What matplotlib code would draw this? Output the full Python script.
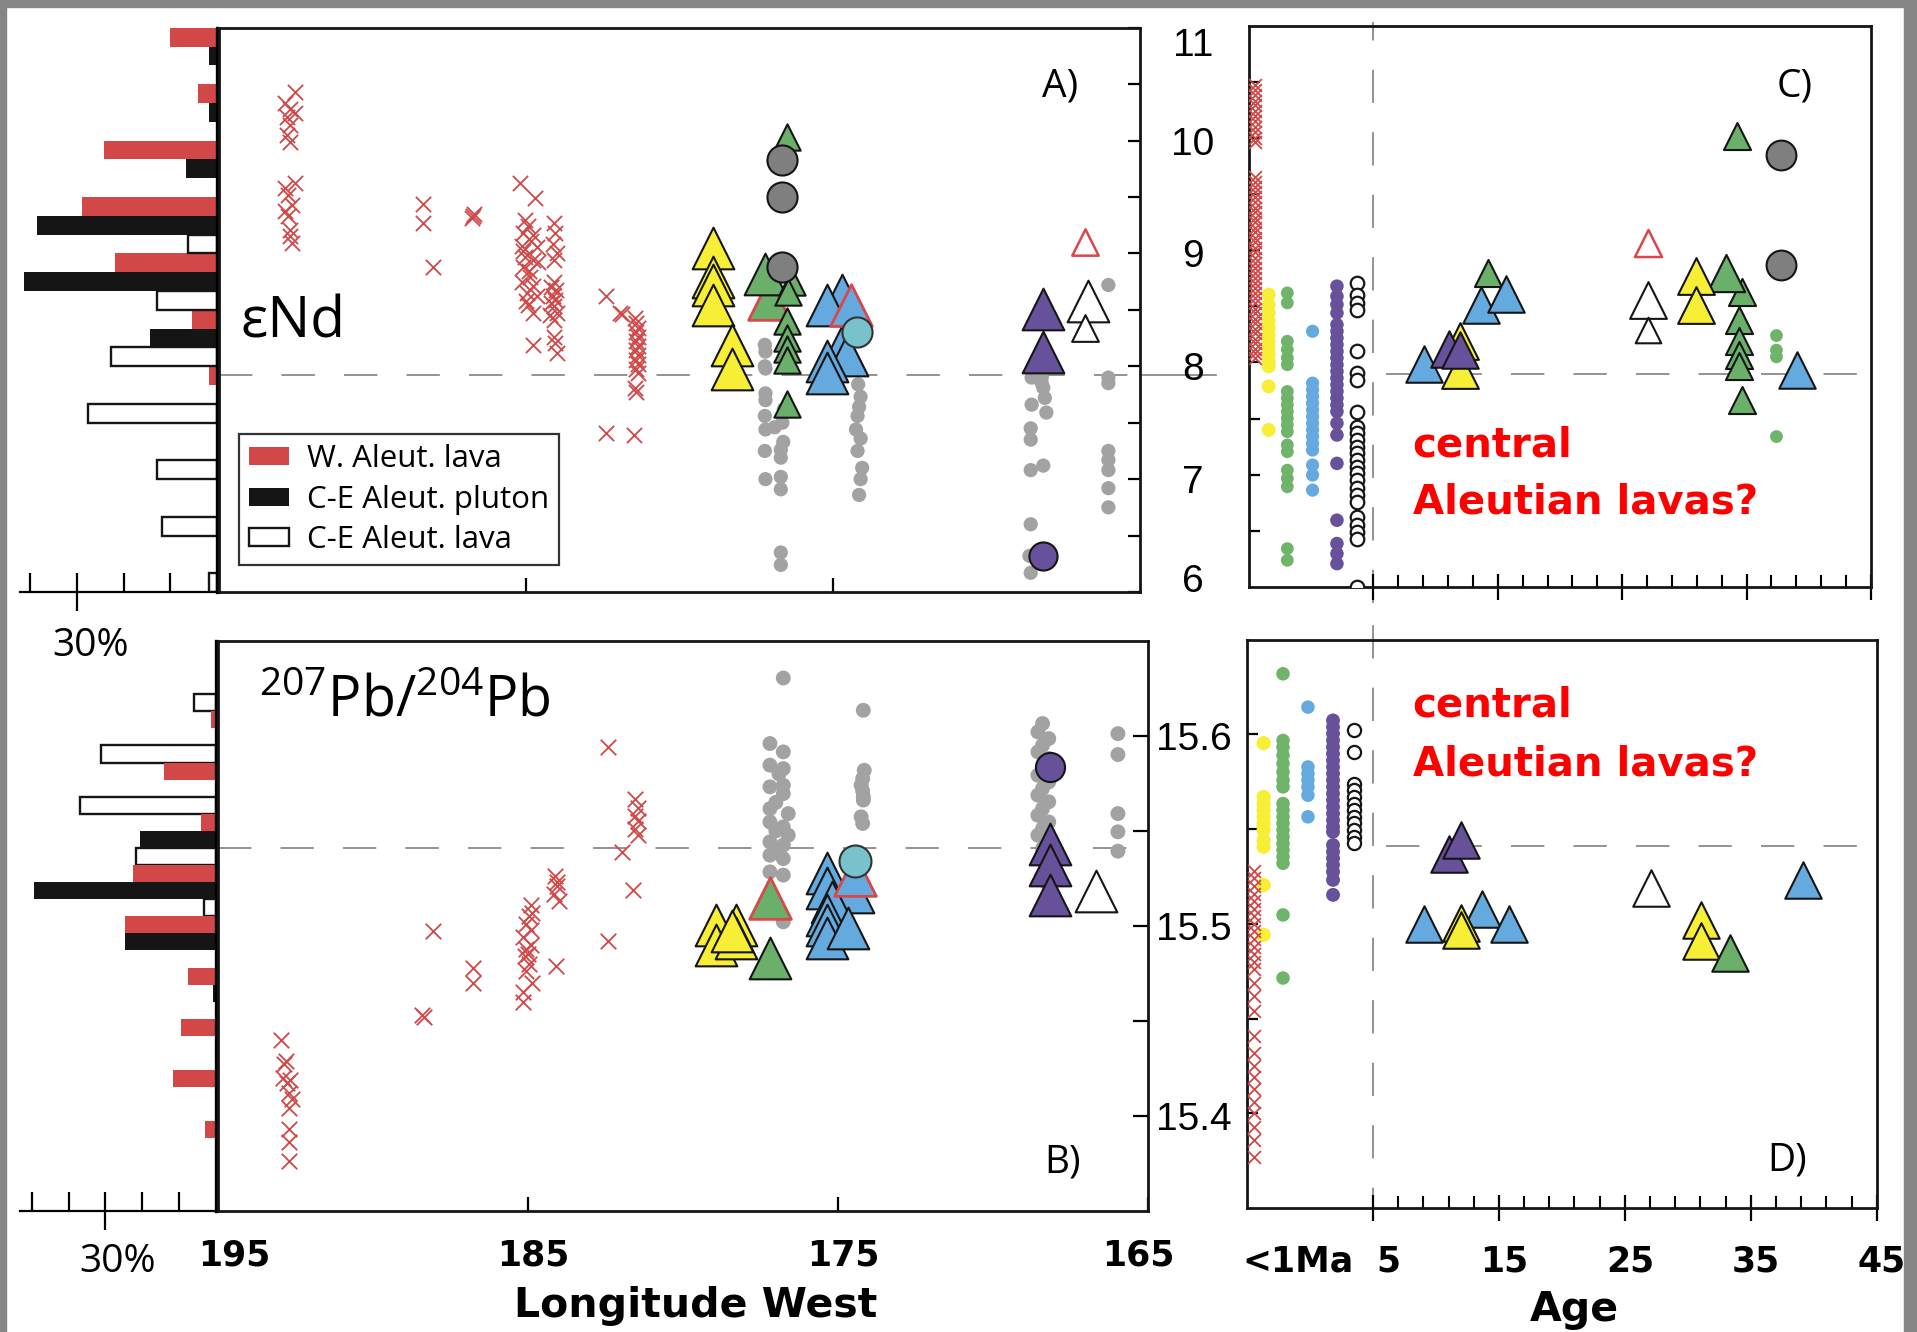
"""
Aleutian isotope panels: eNd and 207Pb/204Pb against longitude (A, B)
and against age (C, D), with side histograms for the western and
central-eastern Aleutian data.
"""

import numpy as np
import matplotlib
matplotlib.use("Agg")
import matplotlib.pyplot as plt
from matplotlib.patches import Patch, Rectangle
from matplotlib.transforms import ScaledTranslation
from matplotlib.ticker import FixedLocator

plt.rcParams["mathtext.fontset"] = "custom"
plt.rcParams["mathtext.rm"] = "Open Sans"
plt.rcParams["mathtext.default"] = "rm"

W_PX, H_PX, DPI = 1917, 1332, 100

RED = "#d24848"
YELLOW = "#f7ee36"
GREEN = "#6aaf6a"
GREEN_DOT = "#70b46c"
BLUE = "#65aade"
PURPLE = "#68519b"
CYAN = "#78c2cc"
GRAY_BIG = "#7f7f7f"
GRAY_DOT = "#a2a2a2"
BLACK = "#151515"
DASH = "#808080"

# ─────────────────────────────────────────────────────────────────
#  HISTOGRAMS (percent of samples)
# ─────────────────────────────────────────────────────────────────
nd_bin_top = [11.0, 10.5, 10.0, 9.5, 9.0, 8.5, 8.0, 7.5, 7.0, 6.5]
nd_hist_wal = [10.0, 4.1, 24.2, 29.0, 21.9, 5.4, 1.8, 0, 0, 0]
nd_hist_pluton = [1.8, 1.8, 6.6, 38.6, 41.3, 14.3, 0, 0, 0, 0]
nd_hist_celava = [0, 0, 0, 6.3, 12.9, 22.6, 27.6, 12.9, 11.8, 1.7]

pb_bin_top = [15.649, 15.622, 15.595, 15.568, 15.541, 15.514, 15.487, 15.460, 15.433, 15.406]
pb_hist_celava = [0, 5.9, 31.2, 36.8, 21.6, 3.3, 0, 0, 0, 0]
pb_hist_wal = [0, 1.3, 14.0, 4.2, 22.5, 24.7, 7.5, 9.6, 11.8, 3.1]
pb_hist_pluton = [0, 0, 0, 20.5, 49.4, 24.7, 0.8, 0, 0, 0]

# ─────────────────────────────────────────────────────────────────
#  PANEL A  (eNd vs longitude)
# ─────────────────────────────────────────────────────────────────
a_wal_lon = [192.52, 192.85, 192.69, 192.52, 192.80, 192.69, 192.80, 192.69,
             192.52, 192.85, 192.74, 192.63, 192.85, 192.74, 192.69, 192.69, 192.63,
             188.35, 188.35, 188.02, 186.69, 186.77, 186.72,
             185.20, 184.70, 185.03, 184.95, 185.09, 184.76, 185.14, 184.65, 185.03,
             184.76, 184.60, 185.09, 184.87, 185.14, 184.76, 184.98, 184.65, 184.92,
             184.76, 184.76, 185.10, 184.90, 185.00, 184.85,
             184.10, 184.05, 184.12, 184.00, 184.08, 184.10, 184.02, 184.12, 184.05,
             184.10, 184.00, 184.08, 184.10, 184.05, 184.00, 184.20, 184.18, 184.22,
             182.39, 181.94, 181.87, 181.45,
             181.42, 181.35, 181.42, 181.35, 181.42, 181.35, 181.42, 181.35, 181.42,
             181.35, 181.42, 181.35, 181.45, 181.42, 182.39, 181.48]
a_wal_end = [10.43, 10.33, 10.28, 10.24, 10.21, 10.14, 10.05, 9.99,
             9.62, 9.58, 9.52, 9.43, 9.38, 9.33, 9.21, 9.15, 9.09,
             9.44, 9.27, 8.88, 9.35, 9.31, 9.33,
             9.62, 9.49, 9.30, 9.24, 9.18, 9.16, 9.07, 9.06, 8.97,
             8.94, 8.92, 8.88, 8.79, 8.75, 8.71, 8.65, 8.62, 8.54,
             8.47, 8.19, 9.02, 8.84, 8.58, 9.11,
             9.27, 9.18, 9.08, 9.00, 8.94, 8.75, 8.68, 8.62, 8.59,
             8.53, 8.47, 8.41, 8.26, 8.21, 8.12, 8.70, 8.56, 8.45,
             8.62, 8.47, 8.46, 8.43,
             8.38, 8.34, 8.30, 8.26, 8.22, 8.18, 8.14, 8.10, 8.06,
             8.02, 7.98, 7.94, 7.81, 7.77, 7.41, 7.39]

a_gray_lon = [177.22, 177.20, 177.22, 177.20, 177.20, 177.20, 177.22, 176.65, 176.90,
              177.20, 177.22, 176.70, 176.70, 177.20, 176.70, 176.70, 176.70, 176.70,
              176.60, 176.62,
              174.18, 174.10, 174.15, 174.20, 174.25, 174.10, 174.20, 174.05, 174.10, 174.15,
              168.53, 168.20, 168.15, 168.53, 168.05, 168.56, 168.56, 168.56, 168.15,
              168.56, 168.60, 168.56, 168.20, 168.10,
              166.03, 166.03, 166.03, 166.03, 166.03, 166.03, 166.03, 166.03]
a_gray_end = [8.19, 8.13, 8.00, 7.98, 7.76, 7.70, 7.56, 7.50, 7.46,
              7.44, 7.25, 7.26, 7.19, 7.00, 7.02, 6.91, 6.35, 6.24,
              7.62, 7.33,
              7.84, 7.73, 7.64, 7.56, 7.44, 7.36, 7.25, 7.10, 7.00, 6.86,
              7.90, 7.90, 7.81, 7.66, 7.59, 7.45, 7.35, 7.08, 7.12,
              6.60, 6.32, 6.17, 7.85, 7.72,
              8.72, 7.90, 7.85, 7.25, 7.17, 7.08, 6.92, 6.75]

a_yellow_lon = [178.9, 178.9, 178.9, 178.9, 178.3, 178.3]
a_yellow_end = [9.05, 8.79, 8.72, 8.54, 8.19, 7.98]
a_green_lon = [177.2]
a_green_end = [8.82]
a_green_red_lon = [177.1]
a_green_red_end = [8.60]
a_green_small_lon = [176.5, 176.35, 176.45, 176.5, 176.5, 176.5, 176.5, 176.5]
a_green_small_end = [10.03, 8.75, 8.66, 8.40, 8.25, 8.15, 8.06, 7.67]
a_graycirc_lon = [176.66, 176.66, 176.66]
a_graycirc_end = [9.83, 9.50, 8.88]
a_blue_lon = [174.72, 175.2, 174.7, 174.55, 175.2, 175.2]
a_blue_end = [8.63, 8.54, 8.18, 8.10, 8.05, 7.94]
a_blue_red_lon = [174.4]
a_blue_red_end = [8.54]
a_cyan_lon = [174.23]
a_cyan_end = [8.30]
a_purple_lon = [168.15, 168.15]
a_purple_end = [8.51, 8.13]
a_purplecirc_lon = [168.15]
a_purplecirc_end = [6.32]
a_open_lon = [166.68]
a_open_end = [8.58]
a_open_small_lon = [166.8]
a_open_small_end = [8.34]
a_redopen_lon = [166.8]
a_redopen_end = [9.10]

# ─────────────────────────────────────────────────────────────────
#  PANEL C  (eNd vs age; modern samples in columns left of 5 Ma)
# ─────────────────────────────────────────────────────────────────
C_WAL_AGE, C_YEL_AGE, C_GRN_AGE, C_BLU_AGE, C_PUR_AGE, C_OPN_AGE = -4.5, -3.42, -1.92, 0.11, 2.07, 3.65
c_wal_end = [10.47, 10.43, 10.38, 10.33, 10.29, 10.24, 10.20, 10.15, 10.10, 10.05, 10.00, 9.96,
             9.65, 9.61, 9.56, 9.52, 9.47, 9.43, 9.38, 9.34, 9.29, 9.25, 9.20, 9.16, 9.11,
             9.07, 9.02, 8.98, 8.93, 8.89, 8.84, 8.80, 8.75, 8.71, 8.66, 8.62, 8.57, 8.53,
             8.48, 8.44, 8.39, 8.35, 8.30, 8.26, 8.21, 8.17, 8.12, 8.08, 8.04]
c_yellow_end = [8.605, 8.516, 8.441, 8.367, 8.307, 8.248, 8.189, 8.129, 8.070, 8.010,
                7.965, 7.787, 7.399]
c_green_end = [8.620, 8.531, 8.189, 8.115, 8.040, 7.980, 7.742, 7.682, 7.623, 7.563,
               7.503, 7.444, 7.384, 7.265, 7.205, 7.041, 6.967, 6.893, 6.342, 6.238]
c_blue_end = [8.278, 7.816, 7.757, 7.697, 7.638, 7.578, 7.518, 7.459, 7.399, 7.339,
              7.280, 7.220, 7.086, 6.997, 6.863]
c_purple_end = [8.680, 8.590, 8.516, 8.441, 8.337, 8.278, 8.218, 8.159, 8.099, 8.040,
                7.980, 7.921, 7.861, 7.802, 7.742, 7.682, 7.623, 7.563, 7.459, 7.354,
                7.101, 6.595, 6.387, 6.297, 6.208]
c_open_end = [8.710, 8.605, 8.531, 8.471, 8.099, 7.906, 7.846, 7.563, 7.429, 7.369,
              7.310, 7.250, 7.191, 7.131, 7.072, 7.012, 6.953, 6.878, 6.818, 6.759,
              6.625, 6.551, 6.491, 6.432, 6.00]

c_blue_age = [9.07, 13.66, 15.69, 39.03]
c_blue_end2 = [7.99, 8.51, 8.61, 7.93]
c_purple_age = [11.09, 12.0]
c_purple_end2 = [8.12, 8.11]
c_yellow_age = [12.0, 12.0, 30.93, 30.93]
c_yellow_end2 = [8.19, 7.93, 8.77, 8.51]
c_green_age = [33.33]
c_green_end2 = [8.80]
c_green_small_age = [14.2, 34.6, 34.4, 34.4, 34.4, 34.4, 34.6, 34.25]
c_green_small_end = [8.80, 8.63, 8.38, 8.19, 8.07, 7.97, 7.67, 10.02]
c_redopen_age = [27.07]
c_redopen_end = [9.06]
c_open_age = [27.07]
c_open_end2 = [8.56]
c_open_small_age = [27.07]
c_open_small_end = [8.29]
c_graycirc_age = [37.8, 37.8]
c_graycirc_end = [9.85, 8.87]
c_greendot_age = [37.4, 37.4, 37.4, 37.4]
c_greendot_end = [8.24, 8.11, 8.05, 7.34]

# ─────────────────────────────────────────────────────────────────
#  PANEL B  (207Pb/204Pb vs longitude)
# ─────────────────────────────────────────────────────────────────
b_wal_lon = [192.94, 192.80, 192.85, 192.90, 192.65, 192.75, 192.70, 192.60, 192.70,
             192.70, 192.70, 192.70,
             188.06, 188.40, 188.35, 186.75, 186.75,
             184.91, 184.85, 184.95, 185.04, 184.90, 185.15, 185.04, 185.08, 184.95,
             185.04, 184.85, 185.15, 185.15, 185.00, 184.90,
             184.12, 184.05, 184.15, 184.00, 184.05, 184.10,
             182.40, 182.40, 181.95, 181.61,
             181.55, 181.45, 181.55, 181.45, 181.55, 181.45]
b_wal_pb = [15.440, 15.429, 15.427, 15.420, 15.419, 15.417, 15.412, 15.409, 15.404,
            15.393, 15.386, 15.376,
            15.497, 15.453, 15.452, 15.478, 15.470,
            15.511, 15.507, 15.505, 15.501, 15.498, 15.494, 15.488, 15.484, 15.480,
            15.476, 15.470, 15.465, 15.460, 15.485, 15.490,
            15.526, 15.521, 15.517, 15.513, 15.523, 15.479,
            15.594, 15.492, 15.539, 15.519,
            15.567, 15.562, 15.558, 15.555, 15.551, 15.548]

b_gray_lon = [176.76, 177.19, 176.76, 177.19, 176.76, 176.76, 177.19, 176.76, 177.19,
              176.60, 177.19, 176.76, 176.60, 177.19, 176.76, 177.19, 176.76, 177.19,
              176.76, 176.76, 177.00, 177.00, 176.90, 177.00,
              174.18, 174.15, 174.20, 174.25, 174.20, 174.18, 174.18, 174.25, 174.20,
              168.40, 168.55, 168.20, 168.40, 168.55, 168.20, 168.40, 168.55, 168.20,
              168.40, 168.55, 168.20, 168.40, 168.55, 168.20, 168.40, 168.55, 168.20,
              168.40, 168.30, 168.30,
              165.97, 165.97, 165.97, 165.97, 165.97]
b_gray_pb = [15.6305, 15.596, 15.5916, 15.5846, 15.5828, 15.574, 15.5732, 15.5696, 15.5617,
             15.5591, 15.5547, 15.5521, 15.5477, 15.5442, 15.5425, 15.5372, 15.5354, 15.5284,
             15.5267, 15.5021, 15.565, 15.550, 15.580, 15.540,
             15.6135, 15.5819, 15.5775, 15.574, 15.571, 15.568, 15.5662, 15.5574, 15.5539,
             15.6065, 15.6021, 15.5986, 15.5951, 15.5916, 15.5881, 15.5837, 15.5793, 15.5758,
             15.5723, 15.5688, 15.5653, 15.5617, 15.5582, 15.5547, 15.5512, 15.5477, 15.5442,
             15.5407, 15.5284, 15.5232,
             15.6012, 15.5902, 15.5591, 15.5495, 15.5393]

b_yellow_lon = [178.93, 178.93, 178.28, 178.28, 178.4]
b_yellow_pb = [15.5005, 15.490, 15.5005, 15.4936, 15.497]
b_green_red_lon = [177.19]
b_green_red_pb = [15.5144]
b_green_lon = [177.19]
b_green_pb = [15.4828]
b_blue_lon = [175.34, 175.34, 174.5, 175.2, 175.34, 175.34, 175.34, 174.66]
b_blue_pb = [15.528, 15.520, 15.518, 15.5126, 15.5056, 15.5004, 15.4938, 15.499]
b_blue_red_lon = [174.44]
b_blue_red_pb = [15.5267]
b_cyan_lon = [174.44]
b_cyan_pb = [15.5342]
b_purplecirc_lon = [168.16]
b_purplecirc_pb = [15.5837]
b_purple_lon = [168.16, 168.16, 168.16]
b_purple_pb = [15.543, 15.532, 15.5162]
b_open_lon = [166.67]
b_open_pb = [15.5182]

# ─────────────────────────────────────────────────────────────────
#  PANEL D  (207Pb/204Pb vs age)
# ─────────────────────────────────────────────────────────────────
D_WAL_AGE, D_YEL_AGE, D_GRN_AGE, D_BLU_AGE, D_PUR_AGE, D_OPN_AGE = -4.43, -3.68, -2.14, -0.16, 1.83, 3.47
d_wal_pb = [15.528, 15.524, 15.520, 15.516, 15.512, 15.508, 15.504, 15.500, 15.496,
            15.492, 15.488, 15.484, 15.480, 15.476, 15.469, 15.462, 15.454, 15.441,
            15.432, 15.425, 15.419, 15.413, 15.406, 15.400, 15.393, 15.386, 15.377]
d_yellow_pb = [15.5954, 15.567, 15.5635, 15.560, 15.5565, 15.553, 15.5495, 15.544,
               15.5407, 15.5205, 15.4942]
d_green_pb = [15.632, 15.5968, 15.5933, 15.589, 15.5846, 15.5802, 15.5758, 15.5723,
              15.5635, 15.560, 15.5565, 15.553, 15.5495, 15.5459, 15.5425, 15.539,
              15.5354, 15.532, 15.5047, 15.4714]
d_blue_pb = [15.6144, 15.5828, 15.5793, 15.5758, 15.5723, 15.5679, 15.5565]
d_purple_pb = [15.6074, 15.6039, 15.6004, 15.5968, 15.5933, 15.5898, 15.5863, 15.5828,
               15.5793, 15.5758, 15.5723, 15.5688, 15.5653, 15.5617, 15.5582, 15.5547,
               15.5512, 15.5486, 15.5416, 15.5381, 15.5346, 15.5311, 15.5275, 15.5232,
               15.5153]
d_open_pb = [15.6025, 15.5907, 15.574, 15.5705, 15.567, 15.5635, 15.560, 15.5565,
             15.553, 15.5495, 15.5459, 15.5425]

d_blue_age = [9.05, 13.67, 15.77, 39.12]
d_blue_pb2 = [15.4997, 15.508, 15.500, 15.523]
d_yellow_age = [12.03, 12.03, 31.03, 31.03]
d_yellow_pb2 = [15.5005, 15.497, 15.502, 15.491]
d_purple_age = [11.06, 12.03]
d_purple_pb2 = [15.537, 15.544]
d_open_age = [27.1]
d_open_pb2 = [15.519]
d_green_age = [33.38]
d_green_pb2 = [15.4846]

ND_REF = 7.92
PB_REF = 15.541
AGE_SPLIT = 5
AGE_MAJOR = [5, 15, 25, 35, 45]


# ─────────────────────────────────────────────────────────────────
#  HELPERS
# ─────────────────────────────────────────────────────────────────

def rect(x0, y0, x1, y1):
    """pixel box (top-left origin) -> figure fraction rect"""
    return [x0 / W_PX, 1 - y1 / H_PX, (x1 - x0) / W_PX, (y1 - y0) / H_PX]


def ftext(fig, x, y, s, **kw):
    fig.text(x / W_PX, 1 - y / H_PX, s, **kw)


def tri(ax, x, y, s, fc, ec=BLACK, lw=1.5, z=4):
    ax.scatter(x, y, s=s, marker="^", facecolors=fc, edgecolors=ec, linewidths=lw, zorder=z)


def circ(ax, x, y, s, fc, ec=BLACK, lw=1.5, z=5):
    ax.scatter(x, y, s=s, marker="o", facecolors=fc, edgecolors=ec, linewidths=lw, zorder=z)


def dots(ax, x, y, s, fc, z=2):
    ax.scatter(x, y, s=s, marker="o", facecolors=fc, edgecolors="none", zorder=z)


def crosses(ax, x, y, s, z=3):
    ax.scatter(x, y, s=s, marker="x", c=RED, linewidths=1.3, zorder=z)


def column(value, n):
    return np.full(n, value)


def dashed_h(ax, y, xmin=0.0, xmax=1.0):
    ax.axhline(y, xmin=xmin, xmax=xmax, color=DASH, lw=1.2, dashes=(20, 17.5), zorder=1)


def style_frame(ax):
    for sp in ax.spines.values():
        sp.set_linewidth(2.0)
        sp.set_color(BLACK)


def draw_hist(ax, bin_tops, slot, series, pct_max, ylim):
    for j, (pct, fc, ec) in enumerate(series):
        tops = np.array(bin_tops)
        vals = np.array(pct, dtype=float)
        keep = vals > 0
        centers = tops[keep] - (j + 0.5) * slot
        ax.barh(centers, vals[keep], height=slot, left=0, color=fc,
                edgecolor=ec, linewidth=1.7 if ec != "none" else 0, zorder=2)
    ax.set_xlim(pct_max, 0)
    ax.set_ylim(*ylim)
    for side in ("top", "left"):
        ax.spines[side].set_visible(False)
    ax.spines["right"].set_linewidth(2.4)
    ax.spines["bottom"].set_linewidth(1.6)
    ax.set_yticks([])
    ax.xaxis.set_major_locator(FixedLocator([30]))
    ax.xaxis.set_minor_locator(FixedLocator([t for t in (10, 20, 40, 50) if t < pct_max]))
    ax.tick_params(axis="x", which="major", direction="inout", length=28, width=1.6, labelbottom=False)
    ax.tick_params(axis="x", which="minor", direction="in", length=14, width=1.6)


def shift_labels(fig, labels, offsets_px):
    for lab, dx in zip(labels, offsets_px):
        lab.set_transform(lab.get_transform() + ScaledTranslation(dx / DPI, 0, fig.dpi_scale_trans))


# ─────────────────────────────────────────────────────────────────
#  MAIN
# ─────────────────────────────────────────────────────────────────

def main():
    fig = plt.figure(figsize=(W_PX / DPI, H_PX / DPI), dpi=DPI)
    fig.patch.set_facecolor("white")

    # screenshot frame
    fig.patches.append(Rectangle((0, 1 - 7 / H_PX), 1, 7 / H_PX, transform=fig.transFigure, color="#858585", zorder=0))
    fig.patches.append(Rectangle((0, 0), 6 / W_PX, 1, transform=fig.transFigure, color="#858585", zorder=0))
    fig.patches.append(Rectangle((1 - 13 / W_PX, 0), 13 / W_PX, 1, transform=fig.transFigure, color="#858585", zorder=0))

    h_top = fig.add_axes(rect(20.4, 27.7, 217, 592))
    ax_a = fig.add_axes(rect(219, 27.7, 1140, 592))
    ax_c = fig.add_axes(rect(1249, 25.7, 1871, 587))
    h_bot = fig.add_axes(rect(20.4, 641, 216, 1210.6))
    ax_b = fig.add_axes(rect(217.6, 641, 1148, 1210.6))
    ax_d = fig.add_axes(rect(1247, 639.7, 1876.7, 1208))

    # histograms
    draw_hist(h_top, nd_bin_top, 0.5 / 3,
              [(nd_hist_wal, RED, "none"), (nd_hist_pluton, BLACK, "none"), (nd_hist_celava, "white", BLACK)],
              42.1, (6, 11))
    draw_hist(h_bot, pb_bin_top, 0.009,
              [(pb_hist_celava, "white", BLACK), (pb_hist_wal, RED, "none"), (pb_hist_pluton, BLACK, "none")],
              53.1, (15.35, 15.65))

    # ── Panel A ──
    ax = ax_a
    dots(ax, a_gray_lon, a_gray_end, 105, GRAY_DOT)
    crosses(ax, a_wal_lon, a_wal_end, 120)
    tri(ax, a_yellow_lon, a_yellow_end, 900, YELLOW)
    tri(ax, a_green_red_lon, a_green_red_end, 900, GREEN, ec="#d9474a", lw=2)
    tri(ax, a_green_lon, a_green_end, 900, GREEN)
    tri(ax, a_green_small_lon, a_green_small_end, 360, GREEN)
    circ(ax, a_graycirc_lon, a_graycirc_end, 470, GRAY_BIG)
    tri(ax, a_blue_lon, a_blue_end, 900, BLUE)
    tri(ax, a_blue_red_lon, a_blue_red_end, 900, BLUE, ec="#d9474a", lw=2)
    circ(ax, a_cyan_lon, a_cyan_end, 470, CYAN, ec="#333333")
    tri(ax, a_purple_lon, a_purple_end, 900, PURPLE)
    circ(ax, a_purplecirc_lon, a_purplecirc_end, 410, PURPLE)
    tri(ax, a_open_lon, a_open_end, 900, "white")
    tri(ax, a_open_small_lon, a_open_small_end, 370, "white")
    tri(ax, a_redopen_lon, a_redopen_end, 360, "white", ec="#d9474a", lw=1.8)
    dashed_h(ax, ND_REF)
    ax.axhline(ND_REF, xmin=1.0, xmax=1.082, color=DASH, lw=1.2, clip_on=False, zorder=1)
    ax.set_xlim(195, 165)
    ax.set_ylim(6, 11)
    style_frame(ax)
    ax.set_xticks([185, 175])
    ax.tick_params(axis="x", direction="in", length=10, width=1.6, labelbottom=False)
    ax.yaxis.set_ticks_position("right")
    ax.set_yticks([6, 7, 8, 9, 10, 11])
    ax.yaxis.set_minor_locator(FixedLocator([6.5, 7.5, 8.5, 9.5, 10.5]))
    ax.set_yticklabels(["6", "7", "8", "9", "10", "11"], fontfamily="Liberation Sans", fontsize=28, ha="center")
    ax.tick_params(axis="y", which="both", direction="in", length=9, width=1.6, pad=38,
                   right=True, left=False, labelright=True, labelleft=False)
    ylabs = ax.get_yticklabels()
    ylabs[-1].set_va("top")
    ylabs[0].set_va("baseline")

    handles = [Patch(facecolor=RED, edgecolor="none"),
               Patch(facecolor=BLACK, edgecolor="none"),
               Patch(facecolor="white", edgecolor=BLACK, linewidth=1.7)]
    leg = ax.legend(handles, ["W. Aleut. lava", "C-E Aleut. pluton", "C-E Aleut. lava"],
                    loc="lower left", bbox_to_anchor=(0.0215, 0.047), borderaxespad=0,
                    prop={"family": "Open Sans", "size": 22.5}, handlelength=1.3, handleheight=0.5,
                    handletextpad=0.55, labelspacing=0.34, borderpad=0.32, fancybox=False,
                    edgecolor="#333333", framealpha=1)
    leg.get_frame().set_linewidth(1.6)

    # ── Panel C ──
    ax = ax_c
    crosses(ax, column(C_WAL_AGE, len(c_wal_end)), c_wal_end, 85)
    dots(ax, column(C_YEL_AGE, len(c_yellow_end)), c_yellow_end, 100, YELLOW)
    dots(ax, column(C_GRN_AGE, len(c_green_end)), c_green_end, 85, GREEN_DOT)
    dots(ax, column(C_BLU_AGE, len(c_blue_end)), c_blue_end, 90, BLUE)
    dots(ax, column(C_PUR_AGE, len(c_purple_end)), c_purple_end, 95, PURPLE)
    circ(ax, column(C_OPN_AGE, len(c_open_end)), c_open_end, 95, "white", lw=1.6, z=3)
    dots(ax, c_greendot_age, c_greendot_end, 85, GREEN_DOT)
    tri(ax, c_redopen_age, c_redopen_end, 380, "white", ec="#d9474a", lw=1.8)
    tri(ax, c_open_age, c_open_end2, 700, "white")
    tri(ax, c_open_small_age, c_open_small_end, 340, "white")
    tri(ax, c_green_small_age, c_green_small_end, 380, GREEN)
    tri(ax, c_green_age, c_green_end2, 720, GREEN)
    tri(ax, c_blue_age, c_blue_end2, 690, BLUE)
    tri(ax, c_yellow_age, c_yellow_end2, 700, YELLOW)
    tri(ax, c_purple_age, c_purple_end2, 690, PURPLE)
    circ(ax, c_graycirc_age, c_graycirc_end, 460, GRAY_BIG)
    dashed_h(ax, ND_REF - 0.02, xmin=0.22)
    ax.axvline(AGE_SPLIT, ymin=-0.0285, ymax=1.007, color=DASH, lw=1.2, dashes=(20, 17.5),
               clip_on=False, zorder=1)
    ax.set_xlim(-5, 45)
    ax.set_ylim(6, 11)
    style_frame(ax)

    # ── Panel B ──
    ax = ax_b
    dots(ax, b_gray_lon, b_gray_pb, 115, GRAY_DOT)
    crosses(ax, b_wal_lon, b_wal_pb, 125)
    tri(ax, b_yellow_lon, b_yellow_pb, 900, YELLOW)
    tri(ax, b_green_red_lon, b_green_red_pb, 900, GREEN, ec="#d9474a", lw=2)
    tri(ax, b_green_lon, b_green_pb, 900, GREEN)
    tri(ax, b_blue_lon, b_blue_pb, 900, BLUE)
    tri(ax, b_blue_red_lon, b_blue_red_pb, 900, BLUE, ec="#d9474a", lw=2)
    circ(ax, b_cyan_lon, b_cyan_pb, 530, CYAN, ec="#333333")
    circ(ax, b_purplecirc_lon, b_purplecirc_pb, 440, PURPLE)
    tri(ax, b_purple_lon, b_purple_pb, 900, PURPLE)
    tri(ax, b_open_lon, b_open_pb, 900, "white")
    dashed_h(ax, PB_REF)
    ax.set_xlim(195, 165)
    ax.set_ylim(15.35, 15.65)
    style_frame(ax)
    ax.set_xticks([195, 185, 175, 165])
    ax.set_xticklabels(["195", "185", "175", "165"], fontweight="bold", fontsize=25)
    ax.tick_params(axis="x", direction="in", length=10, width=1.6, pad=20)
    shift_labels(fig, ax.get_xticklabels(), [17, 6, 5, -10])
    ax.yaxis.set_ticks_position("right")
    ax.set_yticks([15.4, 15.5, 15.6])
    ax.yaxis.set_minor_locator(FixedLocator([15.45, 15.55]))
    ax.set_yticklabels(["15.4", "15.5", "15.6"], fontfamily="Liberation Sans", fontsize=28, ha="center")
    ax.tick_params(axis="y", which="both", direction="in", length=11, width=1.6, pad=33,
                   right=True, left=False, labelright=True, labelleft=False)

    # ── Panel D ──
    ax = ax_d
    crosses(ax, column(D_WAL_AGE, len(d_wal_pb)), d_wal_pb, 85)
    dots(ax, column(D_YEL_AGE, len(d_yellow_pb)), d_yellow_pb, 105, YELLOW)
    dots(ax, column(D_GRN_AGE, len(d_green_pb)), d_green_pb, 95, GREEN_DOT)
    dots(ax, column(D_BLU_AGE, len(d_blue_pb)), d_blue_pb, 95, BLUE)
    dots(ax, column(D_PUR_AGE, len(d_purple_pb)), d_purple_pb, 100, PURPLE)
    circ(ax, column(D_OPN_AGE, len(d_open_pb)), d_open_pb, 90, "white", lw=1.6, z=3)
    tri(ax, d_blue_age, d_blue_pb2, 690, BLUE)
    tri(ax, d_yellow_age, d_yellow_pb2, 690, YELLOW)
    tri(ax, d_purple_age, d_purple_pb2, 690, PURPLE)
    tri(ax, d_open_age, d_open_pb2, 690, "white")
    tri(ax, d_green_age, d_green_pb2, 690, GREEN)
    dashed_h(ax, PB_REF, xmin=0.22)
    ax.axvline(AGE_SPLIT, ymin=-0.023, ymax=1.065, color=DASH, lw=1.2, dashes=(20, 17.5),
               clip_on=False, zorder=1)
    ax.set_xlim(-5, 45)
    ax.set_ylim(15.35, 15.65)
    style_frame(ax)

    for ax in (ax_c, ax_d):
        ax.set_xticks(AGE_MAJOR)
        ax.xaxis.set_minor_locator(FixedLocator([t for t in range(7, 45, 2) if t % 10 != 5]))
        ax.tick_params(axis="x", which="major", direction="inout", length=19, width=1.6, pad=17,
                       top=False)
        ax.tick_params(axis="x", which="minor", direction="in", length=9, width=1.5, top=False)
        ax.tick_params(axis="y", which="both", direction="in", length=8, width=1.6, labelleft=False)
    ax_c.tick_params(axis="x", labelbottom=False)
    ax_c.yaxis.set_major_locator(FixedLocator([6.5, 7, 7.5, 8, 8.5, 9, 9.5, 10, 10.5]))
    ax_d.yaxis.set_major_locator(FixedLocator([15.4, 15.45, 15.5, 15.55, 15.6]))
    ax_d.set_xticklabels([str(t) for t in AGE_MAJOR], fontweight="bold", fontsize=25)
    shift_labels(fig, ax_d.get_xticklabels(), [15, 5, 5, 5, 5])

    # ── texts ──
    ftext(fig, 240.8, 338, "εNd", fontfamily=["Open Sans", "DejaVu Sans"], fontsize=41, va="baseline")
    ftext(fig, 259, 716.7, r"$^{207}$Pb/$^{204}$Pb", fontfamily="Open Sans", fontsize=40, va="baseline")
    for x, y, s in [(1042, 97, "A)"), (1044, 1172, "B)"), (1777, 97, "C)"), (1767, 1171, "D)")]:
        ftext(fig, x, y, s, fontfamily="Open Sans", fontsize=28, va="baseline")
    for y1, y2 in [(456.7, 514), (716.7, 775)]:
        ftext(fig, 1412.6, y1, "central", color="#ff0000", fontweight="bold", fontsize=29, va="baseline")
        ftext(fig, 1412.6, y2, "Aleutian lavas?", color="#ff0000", fontweight="bold", fontsize=29, va="baseline")
    ftext(fig, 91, 656, "30%", fontfamily="Open Sans", fontsize=28, ha="center", va="baseline")
    ftext(fig, 118, 1272, "30%", fontfamily="Open Sans", fontsize=28, ha="center", va="baseline")
    ftext(fig, 1298.3, 1271, "<1Ma", fontweight="bold", fontsize=25, ha="center", va="baseline")
    ftext(fig, 695.6, 1316.6, "Longitude West", fontweight="bold", fontsize=29.5, ha="center", va="baseline")
    ftext(fig, 1574, 1321, "Age", fontweight="bold", fontsize=29.5, ha="center", va="baseline")

    fig.savefig("out.png", dpi=DPI)
    plt.close(fig)


if __name__ == "__main__":
    main()
